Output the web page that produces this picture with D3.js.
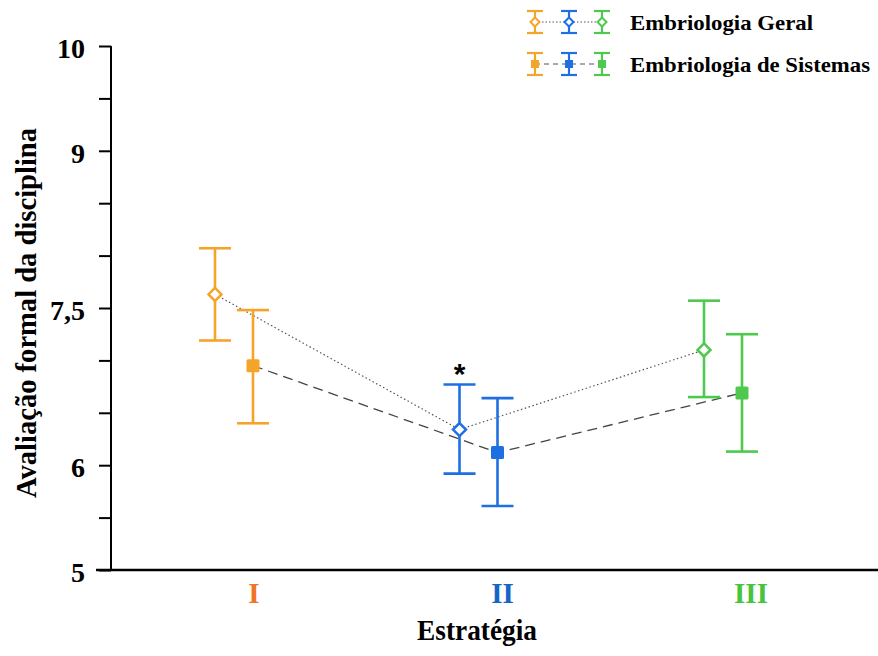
<!DOCTYPE html>
<html>
<head>
<meta charset="utf-8">
<script src="https://cdn.jsdelivr.net/npm/d3@7"></script>
<style>
  body { margin: 0; background: #fff; }
</style>
</head>
<body>
<div class="chart"></div>
<script>
// data
var strategies = ["I", "II", "III"];
var geralMean = [7.63, 6.34, 7.10];
var geralLow = [7.19, 5.92, 6.65];
var geralHigh = [8.07, 6.77, 7.57];
var sistMean = [6.95, 6.12, 6.69];
var sistLow = [6.40, 5.61, 6.13];
var sistHigh = [7.48, 6.64, 7.25];
var yTicks = [10, 9.5, 9, 8.5, 8, 7.5, 7, 6.5, 6, 5.5, 5];
var yLabels = ["10", "9", "7,5", "6", "5"];

var width = 878, height = 656;
var serif = "Liberation Serif";
var colors = ["#F5A42A", "#1E6FE3", "#4DC94D"];
var labelColors = ["#F07423", "#1565C8", "#48C43C"];

var svg = d3.select("div.chart")
    .append("svg")
    .attr("width", width)
    .attr("height", height);

// category labels and the points sit on slightly different spacings
var xLabel = d3.scalePoint()
    .domain(strategies)
    .range([254, 751]);
var x = d3.scalePoint()
    .domain(strategies)
    .range([215, 704]);

var y = d3.scaleLinear()
    .domain([5, 10])
    .range([570, 46]);

// y axis
var yAxis = svg.append("g")
    .attr("transform", "translate(111,0)")
    .call(d3.axisLeft(y).tickValues(yTicks).tickSize(12)
        .tickFormat(function (d) {
            var s = String(d).replace(".", ",");
            return yLabels.indexOf(s) >= 0 ? s : "";
        }));
yAxis.select(".domain").attr("d", "M0," + y(10) + "V" + y(5)).attr("stroke-width", 2);
yAxis.selectAll(".tick line").attr("stroke-width", 2);
yAxis.selectAll(".tick text")
    .attr("x", -26)
    .attr("dy", "0.42em")
    .style("font-size", "28px")
    .style("fill", "#000");

// x axis line
svg.append("line")
    .attr("x1", 96).attr("x2", 878)
    .attr("y1", y(5)).attr("y2", y(5))
    .attr("stroke", "#000")
    .attr("stroke-width", 2.5);

svg.selectAll("text.cat")
    .data(strategies)
    .enter().append("text")
    .attr("class", "cat")
    .attr("x", function (d) { return xLabel(d); })
    .attr("y", 603)
    .attr("text-anchor", "middle")
    .style("font-size", "29px")
    .style("fill", function (d, i) { return labelColors[i]; })
    .text(function (d) { return d; });

svg.append("text")
    .attr("x", 477).attr("y", 640)
    .attr("text-anchor", "middle")
    .attr("textLength", 120)
    .attr("lengthAdjust", "spacingAndGlyphs")
    .style("font-size", "30px")
    .text("Estratégia");

svg.append("text")
    .attr("transform", "translate(36,313) rotate(-90)")
    .attr("text-anchor", "middle")
    .attr("textLength", 370)
    .attr("lengthAdjust", "spacingAndGlyphs")
    .style("font-size", "29px")
    .text("Avaliação formal da disciplina");

var offGeral = 0, offSist = 38;

function makeSeries(mean, low, high, off) {
    return strategies.map(function (s, i) {
        return { cat: s, i: i, x: x(s) + off, mean: mean[i], low: low[i], high: high[i] };
    });
}
var geral = makeSeries(geralMean, geralLow, geralHigh, offGeral);
var sist = makeSeries(sistMean, sistLow, sistHigh, offSist);

var line = d3.line()
    .x(function (d) { return d.x; })
    .y(function (d) { return y(d.mean); });

svg.append("path")
    .attr("d", line(geral))
    .attr("fill", "none")
    .attr("stroke", "#555")
    .attr("stroke-width", 1.2)
    .attr("stroke-dasharray", "1.5,2.5");

svg.append("path")
    .attr("d", line(sist))
    .attr("fill", "none")
    .attr("stroke", "#444")
    .attr("stroke-width", 1.3)
    .attr("stroke-dasharray", "10,6");

function errorBars(data) {
    var g = svg.append("g");
    var cap = 16;
    g.selectAll("line.v").data(data).enter().append("line")
        .attr("x1", function (d) { return d.x; })
        .attr("x2", function (d) { return d.x; })
        .attr("y1", function (d) { return y(d.low); })
        .attr("y2", function (d) { return y(d.high); })
        .attr("stroke", function (d) { return colors[d.i]; })
        .attr("stroke-width", 2.6);
    ["low", "high"].forEach(function (k) {
        g.selectAll("line." + k).data(data).enter().append("line")
            .attr("x1", function (d) { return d.x - cap; })
            .attr("x2", function (d) { return d.x + cap; })
            .attr("y1", function (d) { return y(d[k]); })
            .attr("y2", function (d) { return y(d[k]); })
            .attr("stroke", function (d) { return colors[d.i]; })
            .attr("stroke-width", 2.6);
    });
}
errorBars(geral);
errorBars(sist);

// markers
svg.selectAll("path.diamond")
    .data(geral)
    .enter().append("path")
    .attr("class", "diamond")
    .attr("d", "M0,-6.5L6.5,0L0,6.5L-6.5,0Z")
    .attr("transform", function (d) { return "translate(" + d.x + "," + y(d.mean) + ")"; })
    .attr("fill", "#fff")
    .attr("stroke", function (d) { return colors[d.i]; })
    .attr("stroke-width", 2.5);

svg.selectAll("rect.square")
    .data(sist)
    .enter().append("rect")
    .attr("class", "square")
    .attr("x", function (d) { return d.x - 6.5; })
    .attr("y", function (d) { return y(d.mean) - 6.5; })
    .attr("width", 13).attr("height", 13)
    .attr("rx", 1.5)
    .attr("fill", function (d) { return colors[d.i]; });

// legend
var legendX = [535, 569, 602];
function legendRow(yPos, label, textLen, dash, filled) {
    var g = svg.append("g");
    g.append("line")
        .attr("x1", legendX[0]).attr("x2", legendX[2])
        .attr("y1", yPos).attr("y2", yPos)
        .attr("stroke", "#555")
        .attr("stroke-width", 1)
        .attr("stroke-dasharray", dash);
    legendX.forEach(function (lx, i) {
        g.append("line").attr("x1", lx).attr("x2", lx).attr("y1", yPos - 11).attr("y2", yPos + 11)
            .attr("stroke", colors[i]).attr("stroke-width", 2.2);
        [-11, 11].forEach(function (dy) {
            g.append("line").attr("x1", lx - 8).attr("x2", lx + 8).attr("y1", yPos + dy).attr("y2", yPos + dy)
                .attr("stroke", colors[i]).attr("stroke-width", 2.2);
        });
        if (filled) {
            g.append("rect").attr("x", lx - 4).attr("y", yPos - 4).attr("width", 8).attr("height", 8)
                .attr("fill", colors[i]);
        } else {
            g.append("path").attr("d", "M0,-4.5L4.5,0L0,4.5L-4.5,0Z")
                .attr("transform", "translate(" + lx + "," + yPos + ")")
                .attr("fill", "#fff").attr("stroke", colors[i]).attr("stroke-width", 2);
        }
    });
    g.append("text")
        .attr("x", 630).attr("y", yPos + 8)
        .attr("textLength", textLen)
        .attr("lengthAdjust", "spacingAndGlyphs")
        .style("font-size", "21px")
        .text(label);
}
legendRow(22, "Embriologia Geral", 183, "1.5,2", false);
legendRow(64, "Embriologia de Sistemas", 240, "5,4", true);

// every text gets the serif face set on itself
svg.selectAll("text")
    .style("font-family", serif)
    .style("font-weight", "bold");

// significance mark
svg.append("text")
    .attr("x", geral[1].x)
    .attr("y", y(geral[1].high) - 1)
    .attr("text-anchor", "middle")
    .style("font-family", "Liberation Sans")
    .style("font-weight", "bold")
    .style("font-size", "30px")
    .text("*");
</script>
</body>
</html>
